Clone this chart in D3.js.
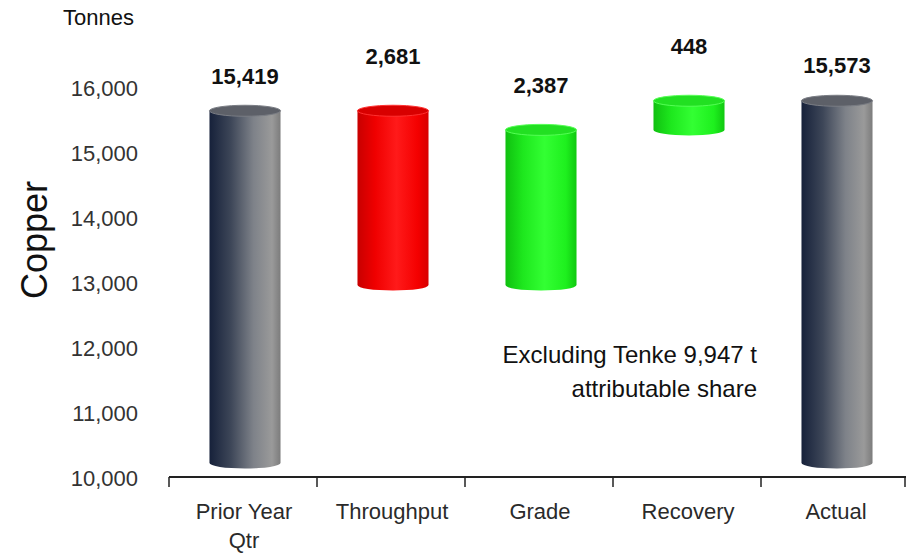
<!DOCTYPE html>
<html>
<head>
<meta charset="utf-8">
<script src="https://cdn.jsdelivr.net/npm/d3@7/dist/d3.min.js"></script>
<style>
  html, body { margin: 0; padding: 0; background: #fff; }
  svg { display: block; font-family: "Liberation Sans", Arial, sans-serif; }
</style>
</head>
<body>
<svg id="chart" width="906" height="554"></svg>
<script>
// Copper production bridge: prior-year quarter to actual (tonnes)
const categories = ["Prior Year\nQtr", "Throughput", "Grade", "Recovery", "Actual"];
const changes    = [15419, -2681, 2387, 448, 15573];
const kinds      = ["total", "decrease", "increase", "increase", "total"];
const yTicks     = [10000, 11000, 12000, 13000, 14000, 15000, 16000];
const unitLabel  = "Tonnes";
const axisTitle  = "Copper";
const noteLines  = ["Excluding Tenke 9,947 t", "attributable share"];

// Build floating segments: totals start at the axis base, changes float on a running sum
const base = yTicks[0];
let running = 0;
const bars = categories.map((c, i) => {
  let lo, hi;
  if (kinds[i] === "total") {
    lo = base; hi = changes[i]; running = changes[i];
  } else {
    const next = running + changes[i];
    lo = Math.min(running, next); hi = Math.max(running, next);
    running = next;
  }
  return { cat: c, kind: kinds[i], value: changes[i], lo, hi };
});

const svg = d3.select("#chart");
const fmt = d3.format(",");

const x = d3.scaleBand().domain(categories).range([169, 909]).padding(0);
const y = d3.scaleLinear().domain([yTicks[0], yTicks[yTicks.length - 1]]).range([478, 88]);

// 3-D depth shift of the cylinders relative to the floor
const depthX = 2, depthY = -15;
const barW = x.bandwidth() * 0.48;
const rx = barW / 2, ry = 5.5;

// Gradients
const defs = svg.append("defs");
const grads = {
  total:    [["0%", "#16213a"], ["30%", "#3d4658"], ["62%", "#7e8289"], ["88%", "#9a9a9a"], ["100%", "#7c7c7c"]],
  decrease: [["0%", "#c80000"], ["25%", "#f00000"], ["55%", "#ff1a1a"], ["85%", "#f40000"], ["100%", "#d80000"]],
  increase: [["0%", "#10c010"], ["25%", "#1ee81e"], ["55%", "#33ff33"], ["85%", "#1ef01e"], ["100%", "#10c810"]]
};
Object.entries(grads).forEach(([k, stops]) => {
  const g = defs.append("linearGradient").attr("id", "body-" + k)
    .attr("x1", "0%").attr("x2", "100%").attr("y1", "0%").attr("y2", "0%");
  stops.forEach(([o, c]) => g.append("stop").attr("offset", o).attr("stop-color", c));
});
const topFill = { total: "#5d6068", decrease: "#d80000", increase: "#22e022" };
const topRim  = { total: "#7a7d84", decrease: "#ff3030", increase: "#55ff55" };

// Y axis labels (no axis line)
const yAxis = svg.append("g")
  .attr("transform", `translate(${x.range()[0]},0)`)
  .call(d3.axisLeft(y).tickValues(yTicks).tickFormat(fmt).tickSize(0).tickPadding(31));
yAxis.select(".domain").remove();
yAxis.selectAll("text")
  .attr("font-family", "Liberation Sans, Arial, sans-serif")
  .attr("font-size", 22).attr("fill", "#333");

// Floor line with category separators
const axisY = y(base) - 1;
const floor = svg.append("g");
floor.append("line")
  .attr("x1", x.range()[0]).attr("x2", 906)
  .attr("y1", axisY).attr("y2", axisY)
  .attr("stroke", "#222").attr("stroke-width", 2);
const seps = categories.map(c => x(c)).concat([x.range()[1] - 4]);
floor.selectAll("line.sep").data(seps).join("line")
  .attr("class", "sep")
  .attr("x1", d => d).attr("x2", d => d)
  .attr("y1", axisY).attr("y2", axisY + 10)
  .attr("stroke", "#222").attr("stroke-width", 1.5);

// Category labels
const catG = svg.append("g");
categories.forEach(c => {
  const t = catG.append("text")
    .attr("x", x(c) + x.bandwidth() / 2 + 1)
    .attr("y", 519)
    .attr("text-anchor", "middle")
    .attr("font-size", 22).attr("fill", "#2a2a2a");
  c.split("\n").forEach((line, j) => {
    t.append("tspan").attr("x", x(c) + x.bandwidth() / 2 + 1)
      .attr("dy", j === 0 ? 0 : 29).text(line);
  });
});

// Cylinders
const barG = svg.append("g");
bars.forEach(b => {
  const cx = x(b.cat) + x.bandwidth() / 2 + depthX;
  const yTop = y(b.hi) + depthY;
  const yBot = y(b.lo) + depthY;
  const x0 = cx - rx, x1 = cx + rx;
  barG.append("path")
    .attr("d", `M${x0},${yTop} L${x0},${yBot} A${rx},${ry} 0 0 0 ${x1},${yBot} L${x1},${yTop} Z`)
    .attr("fill", `url(#body-${b.kind})`);
  barG.append("ellipse")
    .attr("cx", cx).attr("cy", yTop).attr("rx", rx).attr("ry", ry)
    .attr("fill", topFill[b.kind]).attr("stroke", topRim[b.kind]).attr("stroke-width", 1);
});

// Value labels above each cylinder
const labelGap = [21, 41, 31, 41, 22];
bars.forEach((b, i) => {
  const cx = x(b.cat) + x.bandwidth() / 2 + depthX;
  svg.append("text")
    .attr("x", cx).attr("y", y(b.hi) + depthY - ry - labelGap[i])
    .attr("text-anchor", "middle")
    .attr("font-size", 22).attr("font-weight", "bold").attr("fill", "#111")
    .text(fmt(Math.abs(b.value)));
});

// Unit label and rotated axis title
svg.append("text").attr("x", 63).attr("y", 25)
  .attr("font-size", 22).attr("fill", "#111").text(unitLabel);
svg.append("text")
  .attr("transform", "translate(47,240) rotate(-90)")
  .attr("text-anchor", "middle")
  .attr("font-size", 36).attr("fill", "#111").text(axisTitle);

// Note
const note = svg.append("text").attr("text-anchor", "end")
  .attr("font-size", 24).attr("fill", "#111");
noteLines.forEach((l, j) => note.append("tspan").attr("x", 757).attr("y", 363 + j * 34).text(l));
</script>
</body>
</html>
